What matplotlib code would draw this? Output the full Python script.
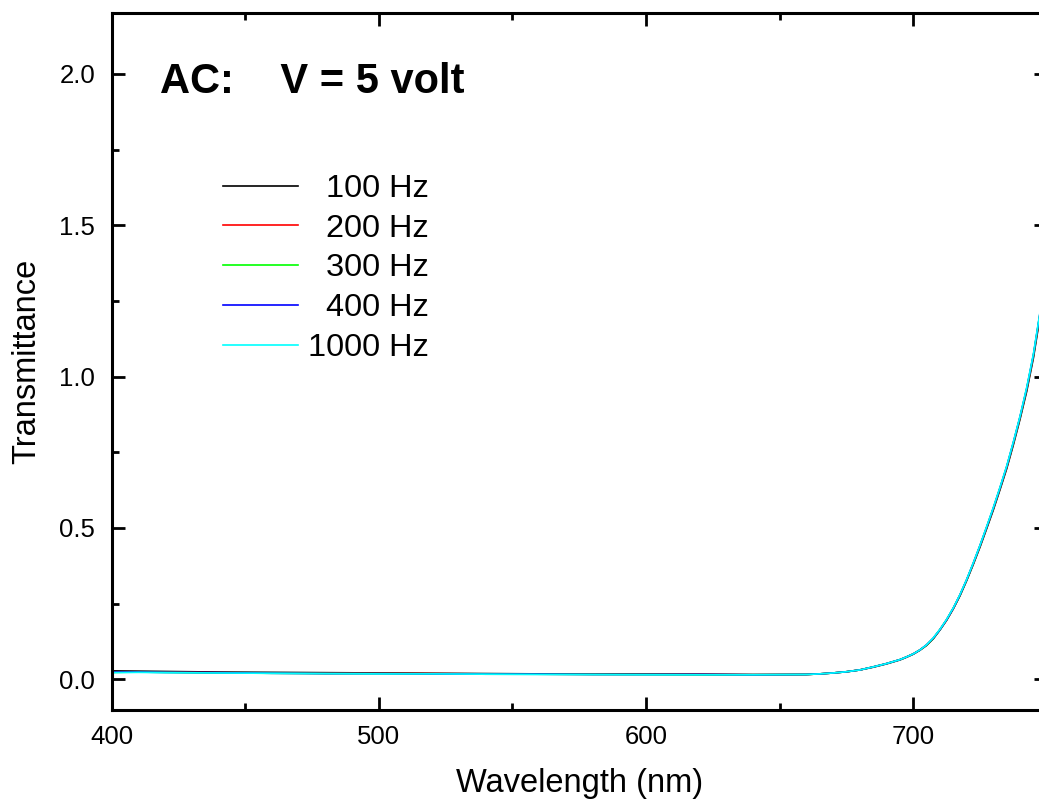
import matplotlib
matplotlib.use("Agg")
import matplotlib.pyplot as plt
from matplotlib.ticker import MultipleLocator

plt.rcParams['font.family'] = ['Liberation Sans', 'DejaVu Sans']

# wavelength grid (nm)
wavelength = [400, 410, 420, 440, 460, 480, 500, 520, 540, 560, 580, 600,
              620, 640, 660, 665, 670, 675, 680, 685, 690, 695, 697.5, 700,
              702.5, 705, 707.5, 710, 712.5, 715, 717.5, 720, 722.5, 725,
              727.5, 730, 732.5, 735, 737.5, 740, 742.5, 745, 747.5, 750]

# transmittance for each AC frequency
t_100 = [0.028, 0.027, 0.026, 0.024, 0.023, 0.022, 0.021, 0.020, 0.019,
         0.018, 0.018, 0.017, 0.017, 0.016, 0.016, 0.018, 0.021, 0.025,
         0.031, 0.040, 0.051, 0.064, 0.073, 0.083, 0.096, 0.112, 0.134,
         0.163, 0.195, 0.233, 0.276, 0.326, 0.380, 0.437, 0.498, 0.560,
         0.627, 0.696, 0.775, 0.860, 0.952, 1.062, 1.200, 1.350]
t_200 = [0.025, 0.025, 0.024, 0.022, 0.021, 0.020, 0.020, 0.019, 0.018,
         0.017, 0.017, 0.016, 0.016, 0.015, 0.016, 0.018, 0.021, 0.025,
         0.031, 0.041, 0.052, 0.065, 0.074, 0.084, 0.097, 0.113, 0.135,
         0.164, 0.196, 0.234, 0.278, 0.328, 0.382, 0.440, 0.501, 0.564,
         0.631, 0.700, 0.780, 0.865, 0.958, 1.068, 1.207, 1.357]
t_300 = [0.023, 0.024, 0.023, 0.021, 0.020, 0.019, 0.019, 0.018, 0.017,
         0.017, 0.016, 0.016, 0.015, 0.015, 0.016, 0.018, 0.021, 0.025,
         0.031, 0.041, 0.052, 0.065, 0.074, 0.084, 0.097, 0.113, 0.135,
         0.164, 0.197, 0.235, 0.278, 0.328, 0.383, 0.441, 0.502, 0.565,
         0.632, 0.702, 0.781, 0.866, 0.960, 1.070, 1.210, 1.360]
t_400 = [0.024, 0.024, 0.023, 0.022, 0.020, 0.019, 0.019, 0.018, 0.017,
         0.017, 0.016, 0.016, 0.016, 0.015, 0.016, 0.018, 0.021, 0.025,
         0.031, 0.041, 0.052, 0.065, 0.074, 0.084, 0.097, 0.114, 0.136,
         0.164, 0.197, 0.235, 0.279, 0.329, 0.384, 0.442, 0.503, 0.566,
         0.633, 0.703, 0.783, 0.868, 0.962, 1.072, 1.212, 1.362]
t_1000 = [0.022, 0.023, 0.022, 0.021, 0.020, 0.019, 0.018, 0.018, 0.017,
          0.016, 0.016, 0.015, 0.015, 0.015, 0.016, 0.018, 0.021, 0.025,
          0.031, 0.041, 0.052, 0.065, 0.074, 0.084, 0.097, 0.114, 0.137,
          0.165, 0.198, 0.236, 0.280, 0.330, 0.385, 0.443, 0.505, 0.568,
          0.635, 0.705, 0.785, 0.870, 0.965, 1.075, 1.215, 1.365]

series = [t_100, t_200, t_300, t_400, t_1000]
labels = ['  100 Hz', '  200 Hz', '  300 Hz', '  400 Hz', '1000 Hz']
colors = ['#000000', '#ff0000', '#00ff00', '#0000ff', '#00ffff']

fig = plt.figure(figsize=(10.39, 8.05), dpi=100)
ax = fig.add_axes([0.1075, 0.1185, 0.900, 0.865])

for vals, lab, col in zip(series, labels, colors):
    ax.plot(wavelength, vals, color=col, lw=1.2, label=lab)

ax.set_xlim(400, 750)
ax.set_ylim(-0.1, 2.2)

ax.xaxis.set_major_locator(MultipleLocator(100))
ax.xaxis.set_minor_locator(MultipleLocator(50))
ax.yaxis.set_major_locator(MultipleLocator(0.5))
ax.yaxis.set_minor_locator(MultipleLocator(0.25))
ax.yaxis.set_major_formatter(plt.FormatStrFormatter('%.1f'))

ax.tick_params(which='both', direction='in', top=True, right=True, width=2.0)
ax.tick_params(which='major', length=9.5, labelsize=18.5)
ax.tick_params(which='minor', length=5)
ax.tick_params(axis='x', which='major', pad=11)
ax.tick_params(axis='y', which='major', pad=12)
for sp in ax.spines.values():
    sp.set_linewidth(2.2)

ax.set_xlabel('Wavelength (nm)', fontsize=23.5, labelpad=14)
ax.set_ylabel('Transmittance', fontsize=23.5, labelpad=12)

leg = ax.legend(loc='upper left', bbox_to_anchor=(0.2146, 0.784),
                bbox_transform=fig.transFigure, frameon=False, fontsize=23.4,
                handlelength=2.3, handletextpad=0.32, labelspacing=0.30,
                borderpad=0, borderaxespad=0)
for line in leg.get_lines():
    line.set_linewidth(1.2)

fig.text(0.154, 0.8845, 'AC:    V = 5 volt', fontsize=30, fontweight='bold',
         va='baseline', ha='left')

fig.savefig('out.png', dpi=100)
